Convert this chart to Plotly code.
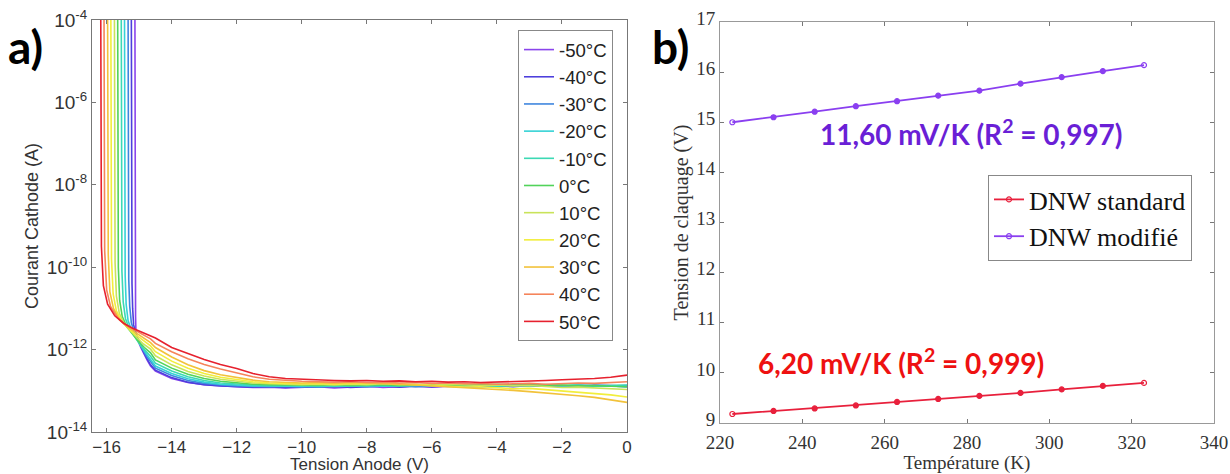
import numpy as np
import plotly.graph_objects as go

# ---------------- Panel a) data ----------------
TEMPS = ["-50°C", "-40°C", "-30°C", "-20°C", "-10°C", "0°C", "10°C", "20°C", "30°C", "40°C", "50°C"]
COLORS_A = ["#8a45ec", "#4d3fdc", "#3f86de", "#35d2d6", "#3cd9b4", "#52d35a",
            "#c9e35a", "#f2ee3c", "#f2c23a", "#f5845a", "#e6212e"]

# shared tail voltage grid (V)
V_TAIL = [-14.5, -14.0, -13.5, -13.0, -12.5, -12.0, -11.5, -11.0, -10.5, -10.0, -9.5, -9.0,
          -8.5, -8.0, -7.5, -7.0, -6.5, -6.0, -5.5, -5.0, -4.5, -4.0, -3.5, -3.0, -2.5, -2.0,
          -1.5, -1.0, -0.5, 0.0]

# breakdown knee voltages (V) per temperature
V_KNEE_M50 = [-15.13, -15.13, -15.12, -15.12, -15.11, -15.10, -15.05, -14.95, -14.85, -14.75, -14.65]
V_KNEE_M40 = [-15.24, -15.24, -15.23, -15.22, -15.20, -15.17, -15.10, -14.98, -14.87, -14.76, -14.65]
V_KNEE_M30 = [-15.34, -15.34, -15.33, -15.32, -15.29, -15.24, -15.15, -15.02, -14.90, -14.78, -14.65]
V_KNEE_M20 = [-15.45, -15.45, -15.44, -15.43, -15.40, -15.34, -15.22, -15.08, -14.94, -14.80, -14.65]
V_KNEE_M10 = [-15.55, -15.55, -15.54, -15.53, -15.49, -15.42, -15.30, -15.14, -14.98, -14.82, -14.65]
V_KNEE_P00 = [-15.66, -15.66, -15.65, -15.64, -15.60, -15.52, -15.38, -15.20, -15.02, -14.84, -14.65]
V_KNEE_P10 = [-15.76, -15.76, -15.75, -15.74, -15.70, -15.61, -15.46, -15.26, -15.06, -14.86, -14.65]
V_KNEE_P20 = [-15.87, -15.87, -15.86, -15.85, -15.80, -15.70, -15.53, -15.31, -15.09, -14.87, -14.65]
V_KNEE_P30 = [-15.97, -15.97, -15.96, -15.95, -15.90, -15.79, -15.60, -15.36, -15.12, -14.88, -14.65]
V_KNEE_P40 = [-16.08, -16.08, -16.07, -16.06, -16.00, -15.88, -15.67, -15.41, -15.15, -14.90, -14.65]
V_KNEE_P50 = [-16.18, -16.18, -16.17, -16.16, -16.10, -15.97, -15.75, -15.48, -15.20, -14.93, -14.65]

# log10 of cathode current (A) on the knee
LOGI_KNEE_M50 = [-4.0, -7.0, -9.0, -10.5, -11.2, -11.55, -11.75, -11.95, -12.12, -12.26, -12.40]
LOGI_KNEE_M40 = [-4.0, -7.0, -9.0, -10.4, -11.0, -11.40, -11.62, -11.85, -12.05, -12.22, -12.37]
LOGI_KNEE_M30 = [-4.0, -7.0, -9.0, -10.3, -10.95, -11.35, -11.58, -11.80, -11.98, -12.15, -12.30]
LOGI_KNEE_M20 = [-4.0, -7.0, -9.0, -10.2, -10.9, -11.30, -11.55, -11.75, -11.92, -12.08, -12.23]
LOGI_KNEE_M10 = [-4.0, -7.0, -9.0, -10.1, -10.85, -11.25, -11.50, -11.70, -11.87, -12.02, -12.16]
LOGI_KNEE_P00 = [-4.0, -7.0, -9.0, -10.0, -10.8, -11.20, -11.45, -11.63, -11.80, -11.95, -12.08]
LOGI_KNEE_P10 = [-4.0, -7.0, -9.0, -9.9, -10.7, -11.12, -11.38, -11.56, -11.72, -11.87, -11.99]
LOGI_KNEE_P20 = [-4.0, -7.0, -9.0, -9.8, -10.65, -11.06, -11.32, -11.50, -11.65, -11.79, -11.91]
LOGI_KNEE_P30 = [-4.0, -7.0, -9.0, -9.7, -10.6, -11.00, -11.28, -11.45, -11.58, -11.71, -11.83]
LOGI_KNEE_P40 = [-4.0, -7.0, -9.0, -9.6, -10.55, -10.95, -11.22, -11.40, -11.52, -11.63, -11.74]
LOGI_KNEE_P50 = [-4.0, -7.0, -9.0, -9.5, -10.45, -10.90, -11.18, -11.36, -11.48, -11.58, -11.68]

# log10 of cathode current (A) on the tail (V_TAIL grid)
LOGI_TAIL_M50 = [-12.52, -12.70, -12.80, -12.85, -12.88, -12.90, -12.92, -12.91, -12.93, -12.92, -12.90, -12.93,
                 -12.91, -12.89, -12.92, -12.90, -12.88, -12.91, -12.89, -12.90, -12.87, -12.90, -12.88, -12.89,
                 -12.87, -12.89, -12.86, -12.88, -12.87, -12.89]
LOGI_TAIL_M40 = [-12.50, -12.68, -12.79, -12.85, -12.88, -12.89, -12.91, -12.90, -12.92, -12.90, -12.91, -12.89,
                 -12.92, -12.90, -12.88, -12.91, -12.89, -12.90, -12.88, -12.91, -12.89, -12.88, -12.90, -12.87,
                 -12.89, -12.88, -12.90, -12.87, -12.88, -12.90]
LOGI_TAIL_M30 = [-12.45, -12.63, -12.75, -12.82, -12.86, -12.88, -12.89, -12.90, -12.89, -12.91, -12.89, -12.90,
                 -12.88, -12.90, -12.89, -12.87, -12.90, -12.88, -12.89, -12.87, -12.90, -12.88, -12.86, -12.89,
                 -12.88, -12.87, -12.89, -12.86, -12.88, -12.87]
LOGI_TAIL_M20 = [-12.40, -12.58, -12.71, -12.79, -12.84, -12.86, -12.88, -12.88, -12.89, -12.88, -12.90, -12.88,
                 -12.89, -12.87, -12.89, -12.88, -12.86, -12.89, -12.87, -12.88, -12.86, -12.89, -12.87, -12.88,
                 -12.86, -12.88, -12.87, -12.89, -12.88, -12.90]
LOGI_TAIL_M10 = [-12.33, -12.52, -12.66, -12.75, -12.81, -12.84, -12.86, -12.87, -12.87, -12.88, -12.87, -12.89,
                 -12.87, -12.88, -12.86, -12.88, -12.87, -12.86, -12.88, -12.87, -12.85, -12.88, -12.86, -12.87,
                 -12.85, -12.87, -12.86, -12.88, -12.87, -12.86]
LOGI_TAIL_P00 = [-12.25, -12.45, -12.60, -12.70, -12.77, -12.81, -12.84, -12.85, -12.86, -12.86, -12.87, -12.85,
                 -12.87, -12.86, -12.85, -12.87, -12.86, -12.84, -12.87, -12.85, -12.86, -12.84, -12.86, -12.85,
                 -12.87, -12.86, -12.88, -12.87, -12.89, -12.90]
LOGI_TAIL_P10 = [-12.15, -12.37, -12.53, -12.64, -12.72, -12.77, -12.81, -12.83, -12.84, -12.85, -12.84, -12.86,
                 -12.84, -12.85, -12.83, -12.85, -12.84, -12.86, -12.84, -12.85, -12.87, -12.86, -12.88, -12.87,
                 -12.90, -12.92, -12.91, -12.93, -12.95, -12.97]
LOGI_TAIL_P20 = [-12.05, -12.28, -12.45, -12.58, -12.67, -12.73, -12.78, -12.81, -12.82, -12.83, -12.82, -12.84,
                 -12.82, -12.83, -12.81, -12.83, -12.85, -12.87, -12.89, -12.91, -12.90, -12.93, -12.95, -12.94,
                 -12.97, -13.00, -13.03, -13.06, -13.10, -13.15]
LOGI_TAIL_P30 = [-11.95, -12.18, -12.37, -12.51, -12.61, -12.68, -12.74, -12.78, -12.80, -12.81, -12.80, -12.82,
                 -12.80, -12.81, -12.82, -12.84, -12.86, -12.88, -12.91, -12.93, -12.95, -12.97, -12.99, -13.02,
                 -13.05, -13.08, -13.12, -13.16, -13.22, -13.28]
LOGI_TAIL_P40 = [-11.85, -12.05, -12.22, -12.36, -12.47, -12.56, -12.66, -12.72, -12.75, -12.77, -12.78, -12.79,
                 -12.78, -12.80, -12.79, -12.81, -12.80, -12.82, -12.81, -12.83, -12.82, -12.84, -12.83, -12.82,
                 -12.84, -12.83, -12.81, -12.82, -12.80, -12.78]
LOGI_TAIL_P50 = [-11.72, -11.95, -12.10, -12.24, -12.36, -12.46, -12.58, -12.66, -12.70, -12.72, -12.74, -12.75,
                 -12.76, -12.75, -12.77, -12.76, -12.78, -12.77, -12.79, -12.78, -12.80, -12.79, -12.78, -12.76,
                 -12.75, -12.73, -12.72, -12.70, -12.67, -12.62]

V_KNEES = [V_KNEE_M50, V_KNEE_M40, V_KNEE_M30, V_KNEE_M20, V_KNEE_M10, V_KNEE_P00,
           V_KNEE_P10, V_KNEE_P20, V_KNEE_P30, V_KNEE_P40, V_KNEE_P50]
LOGI_KNEES = [LOGI_KNEE_M50, LOGI_KNEE_M40, LOGI_KNEE_M30, LOGI_KNEE_M20, LOGI_KNEE_M10, LOGI_KNEE_P00,
              LOGI_KNEE_P10, LOGI_KNEE_P20, LOGI_KNEE_P30, LOGI_KNEE_P40, LOGI_KNEE_P50]
LOGI_TAILS = [LOGI_TAIL_M50, LOGI_TAIL_M40, LOGI_TAIL_M30, LOGI_TAIL_M20, LOGI_TAIL_M10, LOGI_TAIL_P00,
              LOGI_TAIL_P10, LOGI_TAIL_P20, LOGI_TAIL_P30, LOGI_TAIL_P40, LOGI_TAIL_P50]

Y_TICK_EXP = [-14, -12, -10, -8, -6, -4]
X_TICKS_A = [-16, -14, -12, -10, -8, -6, -4, -2, 0]

# ---------------- Panel b) data ----------------
TEMP_K = [223, 233, 243, 253, 263, 273, 283, 293, 303, 313, 323]
VB_STANDARD = [9.18, 9.24, 9.29, 9.35, 9.42, 9.48, 9.54, 9.60, 9.67, 9.74, 9.80]
VB_MODIFIE = [15.00, 15.10, 15.21, 15.32, 15.42, 15.53, 15.63, 15.77, 15.90, 16.02, 16.14]
X_TICKS_B = [220, 240, 260, 280, 300, 320, 340]
Y_TICKS_B = [9, 10, 11, 12, 13, 14, 15, 16, 17]

W, H = 1230, 474
SANS = "Liberation Sans, Arial, sans-serif"
SERIF = "Liberation Serif, Times New Roman, serif"
BOLD_SANS = "Lato, Open Sans, sans-serif"

fig = go.Figure()

for name, col, vk, lk, lt in zip(TEMPS, COLORS_A, V_KNEES, LOGI_KNEES, LOGI_TAILS):
    v = list(vk) + list(V_TAIL)
    i = np.power(10.0, np.array(list(lk) + list(lt)))
    fig.add_trace(go.Scatter(x=v, y=i, mode="lines", name=name,
                             line=dict(color=col, width=1.6),
                             xaxis="x", yaxis="y", legend="legend"))

mk_symbols = ["circle-open"] + ["circle"] * (len(TEMP_K) - 2) + ["circle-open"]
for name, vals, col in [("DNW standard", VB_STANDARD, "#e8203c"), ("DNW modifié", VB_MODIFIE, "#8a3ff0")]:
    fig.add_trace(go.Scatter(x=TEMP_K, y=vals, mode="lines+markers", name=name,
                             line=dict(color=col, width=1.8),
                             marker=dict(size=5, symbol=mk_symbols, color=col,
                                         line=dict(width=1.2, color=col)),
                             xaxis="x2", yaxis="y2", legend="legend2"))

axcol = "#777777"
common = dict(ticks="inside", ticklen=4, tickcolor=axcol, showline=True, mirror="ticks",
              showgrid=False, zeroline=False, automargin=False, ticklabeloverflow="allow")
fig.update_layout(
    width=W, height=H,
    margin=dict(l=0, r=0, t=0, b=0, autoexpand=False),
    paper_bgcolor="white", plot_bgcolor="white",
    xaxis=dict(domain=[92 / W, 627 / W], range=[-16.45, 0], tickvals=X_TICKS_A,
               linecolor=axcol,
               tickfont=dict(family=SANS, size=17, color="#333333"),
               title=dict(text="Tension Anode (V)", font=dict(family=SANS, size=17, color="#333333"),
                          standoff=5),
               anchor="y", **common),
    yaxis=dict(domain=[1 - 432 / H, 1 - 20 / H], type="log", range=[-14, -4],
               tickvals=[10.0 ** e for e in Y_TICK_EXP],
               ticktext=["10<sup>%d</sup>" % e for e in Y_TICK_EXP],
               linecolor=axcol,
               tickfont=dict(family=SANS, size=19, color="#333333"),
               title=dict(text="Courant Cathode (A)", font=dict(family=SANS, size=18, color="#333333"),
                          standoff=3),
               anchor="x", **common),
    xaxis2=dict(domain=[720 / W, 1214 / W], range=[220, 340], tickvals=X_TICKS_B,
                linecolor="#999999", ticklabelstandoff=2,
                tickfont=dict(family=SERIF, size=19, color="#333333"),
                title=dict(text="Température (K)", font=dict(family=SERIF, size=19, color="#333333"),
                           standoff=0),
                anchor="y2", **common),
    yaxis2=dict(domain=[1 - 423 / H, 1 - 22 / H], range=[9, 17], tickvals=Y_TICKS_B,
                linecolor="#999999", ticklabelshift=-4,
                tickfont=dict(family=SERIF, size=19, color="#333333"),
                title=dict(text="Tension de claquage (V)", font=dict(family=SERIF, size=20, color="#333333"),
                           standoff=2),
                anchor="x2", **common),
    legend=dict(x=518 / W, y=1 - 30 / H, xanchor="left", yanchor="top",
                bgcolor="white", bordercolor="#888888", borderwidth=1,
                font=dict(family=SANS, size=18.6, color="#222222"), itemwidth=30),
    legend2=dict(x=988 / W, y=1 - 175 / H, xanchor="left", yanchor="top",
                 bgcolor="white", bordercolor="#888888", borderwidth=1,
                 font=dict(family=SERIF, size=26, color="#111111"), itemwidth=30),
    showlegend=True,
)

fig.add_annotation(text="<b>a)</b>", xref="paper", yref="paper", x=6 / W, y=1 - 46 / H,
                   xanchor="left", yanchor="middle", showarrow=False,
                   font=dict(family=BOLD_SANS, size=46, color="black"))
fig.add_annotation(text="<b>b)</b>", xref="paper", yref="paper", x=650 / W, y=1 - 46 / H,
                   xanchor="left", yanchor="middle", showarrow=False,
                   font=dict(family=BOLD_SANS, size=46, color="black"))
fig.add_annotation(text="<b>11,60 mV/K (R<sup>2</sup> = 0,997)</b>", xref="x2", yref="y2",
                   x=281, y=14.8, showarrow=False, xanchor="center", yanchor="middle",
                   font=dict(family=BOLD_SANS, size=28, color="#6a1fd6"))
fig.add_annotation(text="<b>6,20 mV/K (R<sup>2</sup> = 0,999)</b>", xref="x2", yref="y2",
                   x=264, y=10.22, showarrow=False, xanchor="center", yanchor="middle",
                   font=dict(family=BOLD_SANS, size=28, color="#ee1111"))

fig.write_html("out.html", config={"displayModeBar": False},
               post_script="document.body.style.margin='0';")
